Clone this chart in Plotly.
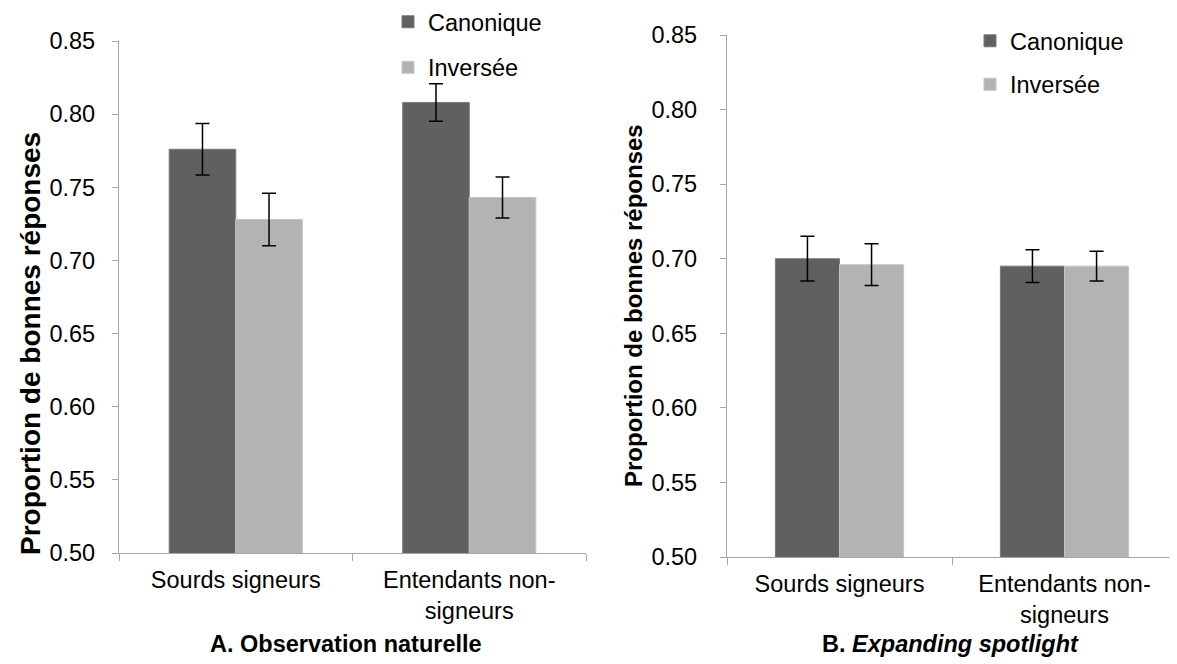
import plotly.graph_objects as go

# data
groups = ["Sourds signeurs", "Entendants non-signeurs"]
group_labels = ["Sourds signeurs", "Entendants non-<br>signeurs"]
series = ["Canonique", "Inversée"]

# A. Observation naturelle
a_canonique = [0.776, 0.808]
a_canonique_err = [0.0176, 0.0128]
a_inversee = [0.728, 0.743]
a_inversee_err = [0.018, 0.014]

# B. Expanding spotlight
b_canonique = [0.700, 0.695]
b_canonique_err = [0.015, 0.011]
b_inversee = [0.696, 0.695]
b_inversee_err = [0.014, 0.010]

y_ticks = [0.50, 0.55, 0.60, 0.65, 0.70, 0.75, 0.80, 0.85]

COLORS = {"Canonique": "#606060", "Inversée": "#b3b3b3"}
EDGES = {"Canonique": "#7a7a7a", "Inversée": "#c4c4c4"}
FONT = "Liberation Sans, Arial, sans-serif"
AXIS_GREY = "#a6a6a6"
FS = 23.5

W, H = 1177, 664
PAGE_OFFSET = 8  # default body margin of the html page


# screen pixel -> paper coordinate
def px(x):
    return (x - PAGE_OFFSET) / W


def py(y):
    return 1 - (y - PAGE_OFFSET) / H


fig = go.Figure()

panels = [
    ("x", "y", "legend", [a_canonique, a_inversee], [a_canonique_err, a_inversee_err]),
    ("x2", "y2", "legend2", [b_canonique, b_inversee], [b_canonique_err, b_inversee_err]),
]

for xa, ya, leg, vals, errs in panels:
    for name, v, e in zip(series, vals, errs):
        fig.add_trace(go.Bar(
            x=groups, y=v, name=name,
            xaxis=xa, yaxis=ya, legend=leg, legendgroup=name + leg,
            marker=dict(color=COLORS[name], line=dict(color=EDGES[name], width=1)),
            error_y=dict(type="data", array=e, color="black", thickness=1.5, width=7),
        ))

axis_common = dict(showline=True, linecolor=AXIS_GREY, linewidth=1.3,
                   ticks="outside", tickcolor=AXIS_GREY, tickwidth=1.3,
                   showgrid=False, zeroline=False,
                   tickfont=dict(family=FONT, size=FS, color="black"))

x_common = dict(axis_common, type="category", tickson="boundaries", ticklen=7,
                tickmode="array", tickvals=groups, ticktext=group_labels,
                ticklabelstandoff=6)
y_common = dict(axis_common, range=[0.5, 0.85], tickmode="array", tickvals=y_ticks,
                tickformat=".2f", ticklen=6)

fig.update_layout(
    width=W, height=H,
    template="none",
    paper_bgcolor="white", plot_bgcolor="white",
    margin=dict(l=0, r=0, t=0, b=0, autoexpand=False),
    barmode="group", bargap=0.43, bargroupgap=0,
    font=dict(family=FONT, size=FS, color="black"),
    showlegend=True,
    xaxis=dict(x_common, domain=[px(119), px(586)], anchor="y"),
    yaxis=dict(y_common, domain=[py(553), py(41)], anchor="x", ticklabelstandoff=12),
    xaxis2=dict(x_common, domain=[px(727), px(1177)], anchor="y2"),
    yaxis2=dict(y_common, domain=[py(557), py(35)], anchor="x2", ticklabelstandoff=18),
    legend=dict(x=px(388), y=py(0), xanchor="left", yanchor="top",
                traceorder="grouped", tracegroupgap=12,
                bgcolor="rgba(0,0,0,0)", font=dict(size=FS)),
    legend2=dict(x=px(970), y=py(19), xanchor="left", yanchor="top",
                 traceorder="grouped", tracegroupgap=10,
                 bgcolor="rgba(0,0,0,0)", font=dict(size=FS)),
)

# y axis titles
fig.add_annotation(text="<b>Proportion de bonnes réponses</b>", textangle=-90,
                   x=px(30), y=py(344), xref="paper", yref="paper",
                   xanchor="center", yanchor="middle",
                   showarrow=False, font=dict(size=28))
fig.add_annotation(text="<b>Proportion de bonnes réponses</b>", textangle=-90,
                   x=px(633), y=py(306), xref="paper", yref="paper",
                   xanchor="center", yanchor="middle",
                   showarrow=False, font=dict(size=24))

# panel titles
fig.add_annotation(text="<b>A. Observation naturelle</b>",
                   x=px(346), y=py(644), xref="paper", yref="paper",
                   xanchor="center", yanchor="middle",
                   showarrow=False, font=dict(size=FS))
fig.add_annotation(text="<b>B. <i>Expanding spotlight</i></b>",
                   x=px(950), y=py(644), xref="paper", yref="paper",
                   xanchor="center", yanchor="middle",
                   showarrow=False, font=dict(size=FS))

fig.write_html("out.html")
